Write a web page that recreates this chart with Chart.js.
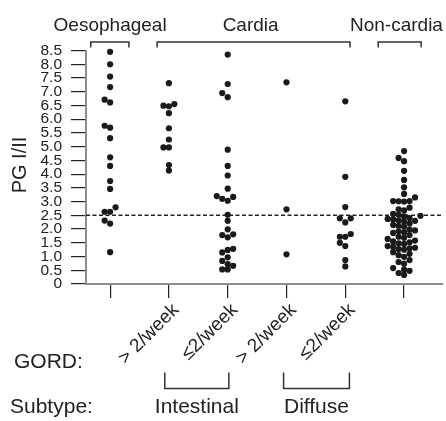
<!DOCTYPE html>
<html>
<head>
<meta charset="utf-8">
<title>PG I/II by tumour site</title>
<script src="https://cdn.jsdelivr.net/npm/chart.js@4.4.1/dist/chart.umd.min.js"></script>
<style>
  html, body { margin: 0; padding: 0; background: #fff; }
  canvas { display: block; }
</style>
</head>
<body>
<canvas id="chart" width="446" height="421"></canvas>
<script>
// PG I/II values per group
const oesophageal = [8.45, 8.0, 7.55, 7.17, 6.71, 6.61, 5.76, 5.69, 5.31, 4.61, 4.30, 3.75, 3.46, 2.79, 2.63, 2.63, 2.31, 2.20, 1.16];
const cardiaIntestinalHigh = [7.31, 6.55, 6.49, 6.47, 6.22, 5.67, 5.26, 4.97, 4.97, 4.33, 4.13];
const cardiaIntestinalLow = [8.35, 7.28, 6.95, 6.80, 4.89, 4.30, 3.95, 3.47, 3.20, 3.17, 3.10, 3.03, 2.52, 2.30, 1.99, 1.81, 1.78, 1.70, 1.28, 1.24, 1.15, 0.97, 0.84, 0.72, 0.66, 0.53, 0.53];
const cardiaDiffuseHigh = [7.34, 2.72, 1.08];
const cardiaDiffuseLow = [6.65, 3.90, 2.80, 2.39, 2.39, 2.24, 1.82, 1.72, 1.72, 1.50, 1.38, 0.87, 0.64];
const nonCardia = [4.84, 4.59, 4.47, 4.12, 3.79, 3.52, 3.28, 3.15,
    3.02, 3.01, 3.00, 3.02, 2.78, 2.72, 2.68, 2.55, 2.52, 2.48, 2.46,
    2.40, 2.37, 2.35, 2.32, 2.30, 2.27, 2.20, 2.15, 2.12, 2.08,
    1.98, 1.95, 1.92, 1.88, 1.86, 1.78, 1.72, 1.68, 1.64,
    1.58, 1.55, 1.52, 1.48, 1.46, 1.38, 1.35, 1.32, 1.30, 1.27, 1.25,
    1.16, 1.10, 1.05, 0.99, 0.87, 0.80, 0.74, 0.58, 0.52, 0.48, 0.40, 0.33];

const groups = [oesophageal, cardiaIntestinalHigh, cardiaIntestinalLow, cardiaDiffuseHigh, cardiaDiffuseLow, nonCardia];
const gordLabels = ['', '> 2/week', '\u22642/week', '> 2/week', '\u22642/week', ''];
const yTicks = [0, 0.5, 1, 1.5, 2, 2.5, 3, 3.5, 4, 4.5, 5, 5.5, 6, 6.5, 7, 7.5, 8, 8.5];
const cutoff = 2.5;

const X_MIN = -0.41, X_MAX = 5.66;
const INK = '#1a1a1a';
Chart.defaults.font.family = "'Liberation Sans', Arial, sans-serif";

// simple beeswarm so dots with close values sit side by side
function swarm(values, center) {
    const stepX = 0.093, sepY = 0.19;
    const placed = [];
    values.slice().sort((a, b) => a - b).forEach(v => {
        for (let k = 0; k < 30; k++) {
            const slot = k === 0 ? 0 : (k % 2 ? -Math.ceil(k / 2) : Math.ceil(k / 2));
            const x = center + slot * stepX;
            const ok = placed.every(p => Math.hypot((p.x - x) / stepX, (p.y - v) / sepY) >= 0.999);
            if (ok) { placed.push({x: x, y: v}); break; }
        }
    });
    return placed;
}

// text, brackets and axis title drawn around the plot
const annotations = {
    id: 'annotations',
    afterDraw(chart) {
        const ctx = chart.ctx;
        const xs = chart.scales.x;
        const px = v => xs.getPixelForValue(v);
        ctx.save();
        ctx.fillStyle = '#222';
        ctx.strokeStyle = '#333';
        ctx.lineWidth = 1.5;

        // site labels on top
        ctx.font = "19px 'Liberation Sans', Arial, sans-serif";
        ctx.textAlign = 'center';
        ctx.textBaseline = 'alphabetic';
        ctx.fillText('Oesophageal', px(0), 31);
        ctx.fillText('Cardia', px(2.39), 31);
        ctx.fillText('Non-cardia', px(4.87), 31);

        const topBracket = (a, b) => {
            ctx.beginPath();
            ctx.moveTo(px(a), 47.5);
            ctx.lineTo(px(a), 42);
            ctx.lineTo(px(b), 42);
            ctx.lineTo(px(b), 47.5);
            ctx.stroke();
        };
        topBracket(-0.33, 0.32);
        topBracket(0.80, 4.08);
        topBracket(4.56, 5.29);

        // subtype brackets below
        const bottomBracket = (a, b) => {
            ctx.beginPath();
            ctx.moveTo(px(a), 372.5);
            ctx.lineTo(px(a), 388.5);
            ctx.lineTo(px(b), 388.5);
            ctx.lineTo(px(b), 372.5);
            ctx.stroke();
        };
        bottomBracket(0.93, 2.02);
        bottomBracket(2.95, 4.07);

        ctx.font = "21px 'Liberation Sans', Arial, sans-serif";
        ctx.fillText('Intestinal', px(1.475), 413);
        ctx.fillText('Diffuse', px(3.51), 413);
        ctx.textAlign = 'left';
        ctx.fillText('GORD:', 14, 368);
        ctx.fillText('Subtype:', 10, 413);

        // y axis title
        ctx.translate(20, 165);
        ctx.rotate(-Math.PI / 2);
        ctx.textAlign = 'center';
        ctx.textBaseline = 'middle';
        ctx.font = "20px 'Liberation Sans', Arial, sans-serif";
        ctx.fillText('PG I/II', 0, 0);
        ctx.restore();
    }
};

const datasets = groups.map((vals, i) => ({
    type: 'scatter',
    label: 'group ' + i,
    data: swarm(vals, i),
    pointRadius: 3.1,
    pointBorderWidth: 0,
    pointBackgroundColor: INK,
    pointHoverRadius: 3.1,
    clip: false
}));

datasets.push({
    type: 'line',
    label: 'cut-off',
    data: [{x: X_MIN, y: cutoff}, {x: X_MAX, y: cutoff}],
    borderColor: '#222',
    borderWidth: 1.4,
    borderDash: [4, 2.5],
    pointRadius: 0,
    fill: false
});

new Chart(document.getElementById('chart'), {
    type: 'scatter',
    data: { datasets: datasets },
    plugins: [annotations],
    options: {
        responsive: false,
        animation: false,
        events: [],
        layout: { padding: { top: 50.5, right: 3, left: 0, bottom: 0 } },
        plugins: { legend: { display: false }, tooltip: { enabled: false } },
        scales: {
            x: {
                type: 'linear',
                min: X_MIN,
                max: X_MAX,
                afterFit: s => { s.height = 137; },
                afterBuildTicks: s => { s.ticks = gordLabels.map((_, i) => ({value: i})); },
                grid: { drawOnChartArea: false, tickLength: 14, color: '#222', lineWidth: 1.2 },
                border: { color: '#8c8c8c', width: 2 },
                ticks: {
                    autoSkip: false,
                    maxRotation: 45,
                    minRotation: 45,
                    labelOffset: 7,
                    padding: 1,
                    color: '#222',
                    font: { size: 19 },
                    callback: (v, i) => gordLabels[i]
                }
            },
            y: {
                min: 0,
                max: 8.5,
                afterFit: s => { s.width = 86; },
                afterBuildTicks: s => { s.ticks = yTicks.map(v => ({value: v})); },
                grid: { drawOnChartArea: false, tickLength: 15, color: '#222', lineWidth: 1.2 },
                border: { color: '#8c8c8c', width: 2 },
                ticks: {
                    autoSkip: false,
                    padding: 9,
                    color: '#222',
                    font: { size: 15.5, lineHeight: 1 },
                    callback: v => v === 0 ? '0' : v.toFixed(1)
                }
            }
        }
    }
});
</script>
</body>
</html>
